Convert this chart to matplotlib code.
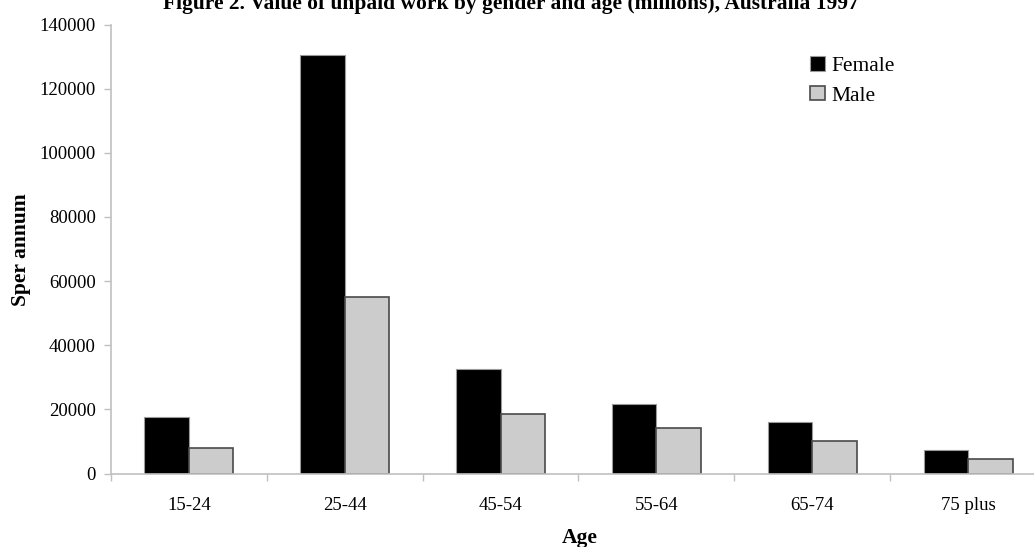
import matplotlib
matplotlib.use("Agg")
import matplotlib.pyplot as plt
from matplotlib.patches import Patch
from matplotlib.ticker import FixedLocator
import numpy as np

plt.rcParams['font.family'] = ['Liberation Serif', 'DejaVu Serif']

age_groups = ["15-24", "25-44", "45-54", "55-64", "65-74", "75 plus"]
female = [17500, 130400, 32600, 21700, 16200, 7400]
male = [7900, 55000, 18600, 14200, 10200, 4500]
y_ticks = [0, 20000, 40000, 60000, 80000, 100000, 120000, 140000]

W, H = 1034, 547
fig = plt.figure(figsize=(W / 100, H / 100), dpi=100)
ax = fig.add_axes([111 / W, (H - 473.5) / H, 935 / W, 449 / H])

x = np.arange(len(age_groups))
bw = 0.286
ax.bar(x - bw / 2, female, bw, color="black", edgecolor="#9a9a9a", linewidth=0.8, label="Female")
ax.bar(x + bw / 2, male, bw, color="#cccccc", edgecolor="#4a4a4a", linewidth=1.2, label="Male")

ax.set_xlim(-0.5, len(age_groups) - 0.5)
ax.set_ylim(0, 140000)
ax.set_yticks(y_ticks)
ax.set_yticklabels([str(v) for v in y_ticks], fontsize=13.5)
ax.set_xticks(x)
ax.set_xticklabels(age_groups, fontsize=13.5)
ax.xaxis.set_minor_locator(FixedLocator(np.arange(-0.5, len(age_groups), 1.0)))
ax.tick_params(axis="x", which="major", length=0, pad=17)
ax.tick_params(axis="x", which="minor", length=5, width=1, color="#c0c0c0", direction="out")
ax.tick_params(axis="y", length=5, width=1, color="#c0c0c0", pad=6)

for side in ("top", "right"):
    ax.spines[side].set_visible(False)
for side in ("left", "bottom"):
    ax.spines[side].set_color("#c0c0c0")
    ax.spines[side].set_linewidth(1.2)

fig.text(21 / W, 1 - 250 / H, "Sper annum", rotation=90, ha="center", va="center",
         fontsize=15.5, fontweight="bold")
fig.text(580 / W, 1 - 538 / H, "Age", ha="center", va="center", fontsize=15.5, fontweight="bold")
fig.text(511 / W, 1 - 9 / H, "Figure 2. Value of unpaid work by gender and age (millions), Australia 1997",
         ha="center", va="baseline", fontsize=15.5, fontweight="bold")

handles = [Patch(facecolor="black", edgecolor="#9a9a9a", linewidth=0.8, label="Female"),
           Patch(facecolor="#cccccc", edgecolor="#4a4a4a", linewidth=1.2, label="Male")]
ax.legend(handles=handles, loc="upper left", bbox_to_anchor=(810 / W, 1 - 56 / H),
          bbox_transform=fig.transFigure, frameon=False, fontsize=15.5,
          handlelength=0.68, handleheight=0.68, handletextpad=0.3,
          labelspacing=0.45, borderpad=0, borderaxespad=0)

fig.savefig("out.png", dpi=100, facecolor="white")
